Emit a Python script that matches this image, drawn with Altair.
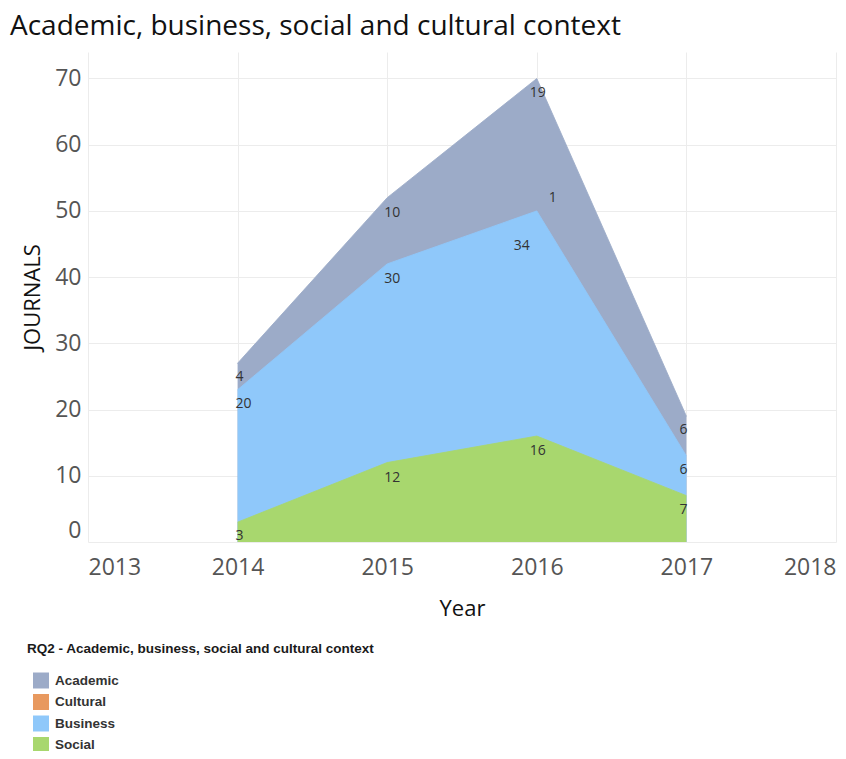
import altair as alt
import pandas as pd

years = [2014, 2015, 2016, 2017]
categories = ["Academic", "Cultural", "Business", "Social"]
stack_order = ["Social", "Business", "Cultural", "Academic"]
social = [3, 12, 16, 7]
business = [20, 30, 34, 6]
cultural_year = [2016]
cultural = [1]
academic = [4, 10, 19, 6]
colors = ["#9cabc8", "#e8995f", "#8fc8fa", "#a8d76e"]

rows = []
for y, v in zip(years, social):
    rows.append({"Year": y, "Context": "Social", "Journals": v})
for y, v in zip(years, business):
    rows.append({"Year": y, "Context": "Business", "Journals": v})
for y, v in zip(cultural_year, cultural):
    rows.append({"Year": y, "Context": "Cultural", "Journals": v})
for y, v in zip(years, academic):
    rows.append({"Year": y, "Context": "Academic", "Journals": v})
df = pd.DataFrame(rows)
df["ord"] = df["Context"].map({c: i for i, c in enumerate(stack_order)})
df = df.sort_values(["Year", "ord"])
df["Top"] = df.groupby("Year")["Journals"].cumsum()

FONT = "Open Sans"

x_enc = alt.X("Year:Q",
              scale=alt.Scale(domain=[2013, 2018], nice=False, zero=False),
              axis=alt.Axis(values=[2013, 2014, 2015, 2016, 2017, 2018], format="d",
                            title="Year", labelFlush=True, labelPadding=14,
                            titlePadding=19, grid=True))

y_enc = alt.Y("Top:Q", stack=None,
              scale=alt.Scale(domain=[0, 74], nice=False),
              axis=alt.Axis(values=[0, 10, 20, 30, 40, 50, 60, 70], title="JOURNALS",
                            labelFlush=True, labelPadding=7, titlePadding=10))

color_enc = alt.Color("Context:N",
                      scale=alt.Scale(domain=categories, range=colors),
                      sort=categories,
                      legend=alt.Legend(title="RQ2 - Academic, business, social and cultural context",
                                        orient="none", legendX=-61, legendY=590,
                                        symbolType="square", symbolSize=256,
                                        symbolStrokeWidth=0, symbolOpacity=1,
                                        symbolOffset=6, rowPadding=5.5,
                                        titlePadding=17, labelOffset=6,
                                        titleLimit=800, labelLimit=400,
                                        titleFont="Liberation Sans", titleFontSize=13.5,
                                        titleFontWeight="bold", titleColor="#1a1a1a",
                                        labelFont="Liberation Sans", labelFontSize=13.5,
                                        labelFontWeight="bold", labelColor="#333333"))

# cumulative areas drawn back to front (Academic first, Social last)
def area_layer(cat):
    return alt.Chart(df).transform_filter(alt.datum.Context == cat).mark_area(
        opacity=1,
        line={"color": "#6f86b2", "strokeWidth": 1, "opacity": 0.85},
    ).encode(x=x_enc, y=y_enc, color=color_enc)

areas = [area_layer(c) for c in categories]

def labels(data_filter, align, dx, dy):
    return alt.Chart(df).transform_filter(data_filter).mark_text(
        align=align, baseline="middle", dx=dx, dy=dy,
        font=FONT, fontSize=14, color="#333333",
    ).encode(
        x=alt.X("Year:Q"),
        y=alt.Y("Top:Q"),
        text=alt.Text("Journals:Q"),
    )

t2014 = labels(alt.datum.Year == 2014, "left", -2, 14)
t2015 = labels(alt.datum.Year == 2015, "center", 5, 15)
t2016 = labels((alt.datum.Year == 2016) & (alt.datum.Context != "Cultural")
               & (alt.datum.Context != "Business"), "center", 1, 15)
t2016c = labels((alt.datum.Year == 2016) & (alt.datum.Context == "Cultural"), "center", 16, -6)
t2016b = labels((alt.datum.Year == 2016) & (alt.datum.Context == "Business"), "center", -15, 35)
t2017 = labels(alt.datum.Year == 2017, "right", 1, 14)

chart = alt.layer(*areas, t2014, t2015, t2016, t2016c, t2016b, t2017).properties(
    width=748,
    height=490,
    autosize=alt.AutoSizeParams(type="none"),
    padding={"left": 80, "top": 44, "right": 2, "bottom": 209},
    title=alt.TitleParams("Academic, business, social and cultural context",
                          anchor="start", frame="group", dx=-78, offset=11, limit=0,
                          font=FONT, fontSize=28, fontWeight="normal", color="#111111"),
).configure_view(stroke=None).configure_axis(
    labelFont=FONT, labelFontSize=23, labelColor="#555555",
    titleFont=FONT, titleFontSize=22, titleFontWeight="normal", titleColor="#111111",
    domain=False, ticks=False, gridColor="#ececec", gridWidth=1,
)

chart.save("out.html", embed_options={"renderer": "svg", "actions": False})
